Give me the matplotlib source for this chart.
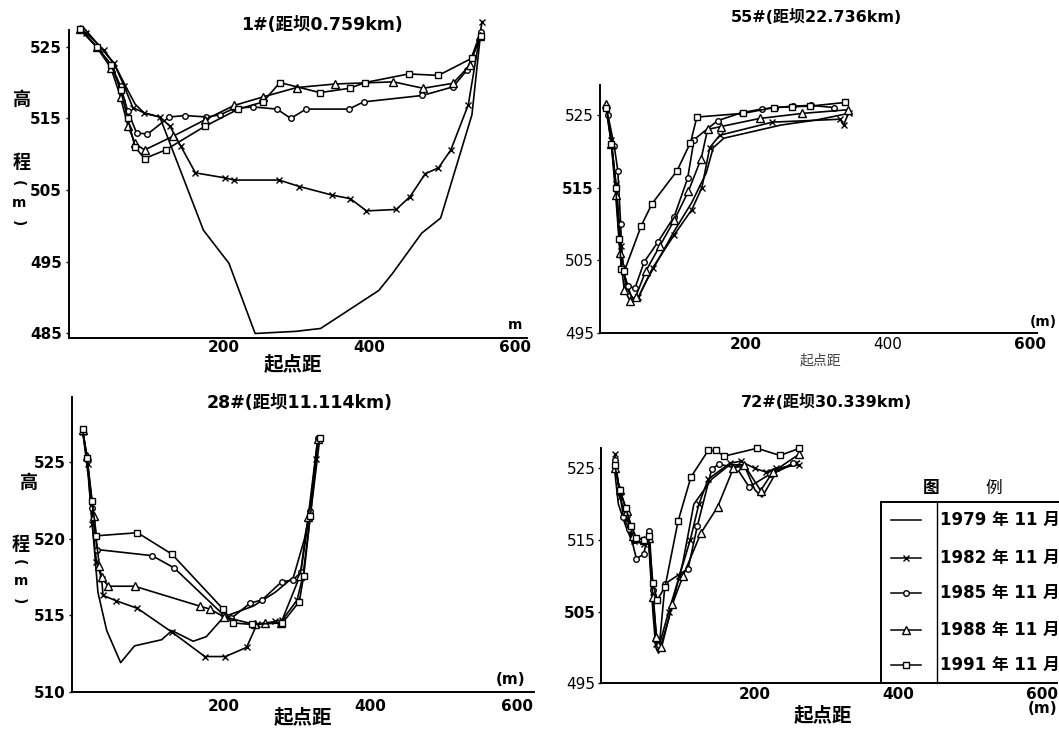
import matplotlib
matplotlib.use('Agg')
import matplotlib.pyplot as plt

plt.rcParams['font.family'] = ['DejaVu Sans', 'Noto Sans CJK SC']

W, H = 1059, 730

# ---------------- data ----------------
legend_labels = ['1979 年 11 月', '1982 年 11 月', '1985 年 11 月', '1988 年 11 月', '1991 年 11 月']
titles = ['1#(距坝0.759km)', '55#(距坝22.736km)', '28#(距坝11.114km)', '72#(距坝30.339km)']
xticks = [200, 400, 600]
p1_yticks = [485, 495, 505, 515, 525]
p2_yticks = [495, 505, 515, 525]
p3_yticks = [510, 515, 520, 525]
p4_yticks = [495, 505, 515, 525]

# Panel 1 : 1#
p1_x_1979 = [6, 30, 50, 65, 78, 91, 112, 172, 207, 243, 299, 333, 413, 432, 472, 498, 541, 553]
p1_y_1979 = [527.8, 525, 522.5, 519.5, 517, 515.7, 515.2, 499.4, 494.8, 485, 485.3, 485.7, 491, 493.4, 499, 501.1, 515.5, 526.9]
p1_x_1982 = [11, 35, 49, 63, 75, 90, 112, 126, 141, 161, 202, 214, 276, 304, 349, 374, 396, 437, 456, 477, 495, 512, 536, 555]
p1_y_1982 = [526.9, 524.5, 522.7, 519.5, 516.5, 515.8, 515.2, 513.9, 511.1, 507.4, 506.7, 506.4, 506.4, 505.5, 504.3, 503.8, 502.1, 502.3, 504.1, 507.3, 508.1, 510.6, 516.9, 528.5]
p1_x_1985 = [2, 25, 45, 58, 68, 80, 95, 125, 147, 176, 195, 214, 240, 273, 292, 313, 372, 392, 473, 515, 534, 553]
p1_y_1985 = [527.5, 525, 522.5, 519.5, 516, 513, 512.8, 515.2, 515.4, 515.2, 515.5, 516.4, 516.6, 516.3, 515.0, 516.3, 516.3, 517.3, 518.2, 519.4, 521.7, 527]
p1_x_1988 = [2, 25, 45, 58, 68, 78, 91, 130, 174, 214, 254, 300, 353, 433, 474, 515, 538, 552]
p1_y_1988 = [527.5, 525, 522, 518, 514, 511.5, 510.6, 512.5, 514.8, 516.8, 518, 519.3, 519.8, 520.1, 519.2, 519.9, 522.4, 526.5]
p1_x_1991 = [2, 25, 45, 58, 68, 78, 91, 120, 174, 220, 254, 277, 332, 373, 394, 454, 495, 541, 553]
p1_y_1991 = [527.5, 525, 522.5, 519, 515, 511, 509.4, 510.6, 513.9, 516.3, 517.3, 520, 518.6, 519.2, 520, 521.2, 521, 523.4, 526.5]

# Panel 2 : 55#
p2_x_1979 = [5, 12, 18, 24, 30, 40, 48, 60, 80, 100, 125, 145, 155, 170, 250, 300, 345]
p2_y_1979 = [525.5, 521, 516, 509, 503, 500, 499.5, 502, 505.5, 509, 513, 517, 520.5, 521.8, 523.6, 524.3, 525.2]
p2_x_1982 = [5, 12, 18, 25, 32, 42, 50, 70, 100, 125, 139, 150, 164, 238, 333, 338, 345]
p2_y_1982 = [526, 521.5, 515.5, 507, 501.5, 499.8, 500, 504, 508.5, 512, 515, 520.5, 522.2, 524, 524.4, 523.6, 525.3]
p2_x_1985 = [7, 16, 21, 25, 27, 35, 45, 58, 77, 100, 119, 128, 161, 195, 223, 242, 267, 292, 325]
p2_y_1985 = [525, 520.7, 517.3, 510, 504.1, 501.5, 501.2, 504.8, 507.5, 511, 516.3, 521.6, 524.2, 525.3, 525.8, 526, 526.2, 526.3, 526]
p2_x_1988 = [5, 12, 18, 24, 30, 38, 46, 60, 80, 100, 120, 138, 147, 166, 220, 280, 344]
p2_y_1988 = [526.5, 521, 514, 506, 501, 499.5, 500, 503.5, 507, 510.5, 514.5, 519, 523, 523.4, 524.5, 525.2, 525.7]
p2_x_1991 = [5, 12, 18, 23, 26, 30, 54, 69, 104, 123, 132, 197, 240, 265, 291, 340]
p2_y_1991 = [526, 521, 515, 508, 503.8, 503.5, 509.8, 512.8, 517.3, 521.2, 524.7, 525.2, 526, 526.1, 526.2, 526.7]

# Panel 3 : 28#
p3_x_1979 = [7, 15, 22, 28, 40, 59, 78, 115, 129, 158, 176, 200, 240, 270, 295, 310, 318, 328]
p3_y_1979 = [527.2, 524, 520, 516.5, 514, 511.9, 513, 513.4, 514, 513.3, 513.6, 514.9, 515.6, 516.5, 517.5, 520, 522, 526.5]
p3_x_1982 = [7, 14, 20, 26, 33, 35, 53, 82, 129, 174, 202, 231, 245, 270, 280, 300, 308, 318, 326]
p3_y_1982 = [527, 524.9, 521, 518.5, 517.4, 516.3, 515.95, 515.45, 513.9, 512.3, 512.3, 512.9, 514.4, 514.6, 514.7, 516, 517.6, 521.5, 525.2]
p3_x_1985 = [7, 13, 20, 27, 102, 132, 200, 210, 236, 252, 279, 294, 305, 317, 329]
p3_y_1985 = [527.2, 525.3, 522, 519.3, 518.9, 518.1, 515, 514.8, 515.8, 516, 517.2, 517.3, 517.8, 521.8, 526.6]
p3_x_1988 = [7, 13, 22, 30, 33, 42, 78, 167, 181, 200, 242, 256, 278, 304, 315, 328]
p3_y_1988 = [527.1, 525.4, 521.5, 518.2, 517.5, 516.9, 516.9, 515.6, 515.4, 514.9, 514.4, 514.5, 514.5, 517.6, 521.4, 526.5]
p3_x_1991 = [7, 13, 20, 26, 82, 129, 199, 212, 238, 280, 303, 309, 318, 331]
p3_y_1991 = [527.2, 525.3, 522.5, 520.2, 520.4, 519, 515.4, 514.5, 514.4, 514.5, 515.9, 517.6, 521.5, 526.6]

# Panel 4 : 72#
p4_x_1979 = [5, 10, 20, 30, 45, 52, 58, 62, 66, 80, 100, 115, 140, 165, 185, 200, 210, 230, 262]
p4_y_1979 = [524.5, 520, 517, 514.5, 514.8, 515, 505, 500, 499.2, 504, 512, 520, 523.5, 525.5, 525.5, 522, 521, 524.5, 526]
p4_x_1982 = [5, 12, 22, 32, 45, 52, 58, 63, 66, 80, 95, 110, 122, 135, 165, 180, 200, 215, 230, 262]
p4_y_1982 = [527, 521, 518, 514.8, 514.5, 515.5, 507, 500.5, 500, 505, 510, 515, 520, 523.5, 525.7, 526, 525, 524.5, 525, 525.5]
p4_x_1985 = [5, 17, 25, 35, 45, 53, 58, 63, 67, 75, 107, 120, 140, 150, 175, 192, 221, 253]
p4_y_1985 = [526.1, 518.2, 516.5, 512.4, 513, 516.3, 508, 501.2, 500.3, 508.9, 511, 517, 524.9, 525.6, 525, 522.4, 524.2, 525.7]
p4_x_1988 = [5, 12, 22, 30, 45, 52, 58, 63, 70, 85, 100, 125, 148, 170, 185, 208, 225, 262]
p4_y_1988 = [525, 522, 519, 515.5, 515, 515.3, 507, 501.5, 500, 506, 510, 516, 519.6, 525, 525.5, 521.9, 524.5, 527]
p4_x_1991 = [5, 12, 20, 28, 35, 45, 52, 58, 64, 75, 93, 111, 135, 146, 157, 203, 235, 262]
p4_y_1991 = [525.4, 522, 519.5, 517, 515.3, 515, 515.5, 509, 506.6, 508.5, 517.6, 523.8, 527.5, 527.5, 526.7, 527.8, 526.8, 527.8]

# ---------------- styles ----------------
markers = [None, 'x', 'o', '^', 's']
msizes = [0, 5, 4, 5.5, 5]

def px_rect(L, T, R, B):
    return [L / W, 1 - B / H, (R - L) / W, (B - T) / H]

def ftext(x, y, s, **kw):
    fig.text(x / W, 1 - y / H, s, **kw)

fig = plt.figure(figsize=(W / 100, H / 100), dpi=100)
fig.patch.set_facecolor('white')

def draw(ax, xs, ys):
    for i, (x, y) in enumerate(zip(xs, ys)):
        ax.plot(x, y, color='black', lw=1.2, marker=markers[i], ms=msizes[i],
                mfc='white', mec='black', mew=1.0, clip_on=False, zorder=3 + i)

def setup(ax, xlim, ylim, yticks, xpad, ypad):
    ax.set_xlim(xlim)
    ax.set_ylim(ylim)
    for s in ['top', 'right']:
        ax.spines[s].set_visible(False)
    for s in ['left', 'bottom']:
        ax.spines[s].set_linewidth(1.4)
    ax.set_xticks(xticks)
    ax.set_yticks(yticks)
    ax.tick_params(axis='x', length=0, pad=xpad, labelsize=11)
    ax.tick_params(axis='y', length=2, width=1, pad=ypad, labelsize=11)
    for lab in ax.get_xticklabels() + ax.get_yticklabels():
        lab.set_fontweight('bold')
    ax.patch.set_alpha(0)

# Panel 1
ax1 = fig.add_axes(px_rect(69, 30, 527, 338.3))
draw(ax1, [p1_x_1979, p1_x_1982, p1_x_1985, p1_x_1988, p1_x_1991],
     [p1_y_1979, p1_y_1982, p1_y_1985, p1_y_1988, p1_y_1991])
setup(ax1, (-12.8, 616.7), (484.33, 527.33), p1_yticks, 1, 3)

# Panel 2
ax2 = fig.add_axes(px_rect(599.6, 85, 1036.7, 333.3))
draw(ax2, [p2_x_1979, p2_x_1982, p2_x_1985, p2_x_1988, p2_x_1991],
     [p2_y_1979, p2_y_1982, p2_y_1985, p2_y_1988, p2_y_1991])
setup(ax2, (-4.6, 609), (495.2, 529.1), p2_yticks, 3, 2)
for lab, wgt in zip(ax2.get_yticklabels(), ['normal', 'normal', 'bold', 'normal']):
    lab.set_fontweight(wgt)
for lab, wgt in zip(ax2.get_xticklabels(), ['bold', 'normal', 'bold']):
    lab.set_fontweight(wgt)

# Panel 3
ax3 = fig.add_axes(px_rect(72.3, 396.7, 533.7, 691.7))
draw(ax3, [p3_x_1979, p3_x_1982, p3_x_1985, p3_x_1988, p3_x_1991],
     [p3_y_1979, p3_y_1982, p3_y_1985, p3_y_1988, p3_y_1991])
setup(ax3, (-7, 623), (510.09, 529.3), p3_yticks, 5, 3)

# Panel 4
ax4 = fig.add_axes(px_rect(601.3, 448.3, 1056.6, 683.3))
draw(ax4, [p4_x_1979, p4_x_1982, p4_x_1985, p4_x_1988, p4_x_1991],
     [p4_y_1979, p4_y_1982, p4_y_1985, p4_y_1988, p4_y_1991])
setup(ax4, (-13.8, 620), (495.2, 527.8), p4_yticks, 3, 2)
ax4.set_xticklabels(['200', '400', '600\n(m)'], linespacing=0.85)
for lab, wgt in zip(ax4.get_yticklabels(), ['normal', 'bold', 'normal', 'normal']):
    lab.set_fontweight(wgt)
for lab in ax4.get_xticklabels():
    lab.set_fontweight('bold')

# Titles
ftext(322, 25, titles[0], ha='center', va='center', fontsize=12.5, fontweight='bold')
ftext(816, 17, titles[1], ha='center', va='center', fontsize=11.5, fontweight='bold')
ftext(300, 403, titles[2], ha='center', va='center', fontsize=12.5, fontweight='bold')
ftext(826, 402, titles[3], ha='center', va='center', fontsize=11.5, fontweight='bold')

# x labels
ftext(293, 365, '起点距', ha='center', va='center', fontsize=14, fontweight='bold')
ftext(820, 361, '起点距', ha='center', va='center', fontsize=10, color='#444444')
ftext(303, 718, '起点距', ha='center', va='center', fontsize=14, fontweight='bold')
ftext(823, 716, '起点距', ha='center', va='center', fontsize=14, fontweight='bold')

# axis units
ftext(515, 325, 'm', ha='center', va='center', fontsize=10, fontweight='bold')
ftext(1043, 322, '(m)', ha='center', va='center', fontsize=10, fontweight='bold')
ftext(511, 680, '(m)', ha='center', va='center', fontsize=11, fontweight='bold')

# y labels (vertical 高程(m))
for (x, y, s, rot) in [(22, 100, '高', 0), (22, 163, '程', 0), (18, 183, '(', -90),
                       (19, 203, 'm', 0), (18, 223, ')', -90),
                       (29, 483, '高', 0), (21, 545, '程', 0), (19, 562, '(', -90),
                       (21, 581, 'm', 0), (19, 601, ')', -90)]:
    ftext(x, y, s, ha='center', va='center', fontsize=13 if s in '高程' else 10,
          fontweight='bold', rotation=rot)

# Legend (table style)
leg = fig.add_axes(px_rect(881, 501.7, 1059, 683.3))
leg.set_xlim(881, 1059)
leg.set_ylim(683.3, 501.7)
leg.axis('off')
leg.plot([881, 881], [501.7, 683.3], color='black', lw=1.4, clip_on=False)
leg.plot([881, 1059], [501.7, 501.7], color='black', lw=1.4, clip_on=False)
leg.plot([936.7, 936.7], [501.7, 683.3], color='black', lw=1.0, clip_on=False)
entry_y = [520, 558.3, 592.7, 630, 665]
for i, y in enumerate(entry_y):
    leg.plot([891, 906, 921], [y, y, y], color='black', lw=1.1, marker=markers[i],
             markevery=[1], ms=msizes[i], mfc='white', mec='black', mew=1.0, clip_on=False)
    leg.text(940, y, legend_labels[i], ha='left', va='center', fontsize=12, fontweight='bold')
ftext(931, 488, '图', ha='center', va='center', fontsize=12, fontweight='bold')
ftext(994, 488, '例', ha='center', va='center', fontsize=12)

fig.savefig('out.png', dpi=100, facecolor='white')
